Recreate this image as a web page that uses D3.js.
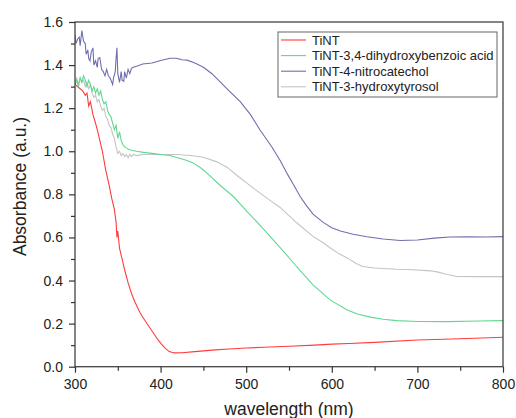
<!DOCTYPE html>
<html><head><meta charset="utf-8">
<script src="https://cdn.jsdelivr.net/npm/d3@7"></script>
<style>body{margin:0;background:#fff}svg{display:block;font-family:"Liberation Sans",Arial,sans-serif}</style>
</head><body><svg id="c" width="516" height="418"></svg>
<script>
const seriesNames = ["TiNT","TiNT-3,4-dihydroxybenzoic acid","TiNT-4-nitrocatechol","TiNT-3-hydroxytyrosol"];
const seriesColors = ["#ff3b3b","#5fd890","#6f6fae","#c4c4c4"];
const xTicks = [300,400,500,600,700,800];
const yTicks = [0.0,0.2,0.4,0.6,0.8,1.0,1.2,1.4,1.6];

const tintX = [300,303,306,309,312,314,316,318,321,324,326,329,332,336,340,343,346,348,349,350,352,355,358,362,366,370,376,380,385,391,396,401,405,410,416,425,440,460,480,500,520,550,580,600,620,650,700,750,800];
const tintY = [1.31,1.30,1.29,1.28,1.26,1.27,1.21,1.23,1.17,1.13,1.10,1.05,1.00,0.91,0.84,0.78,0.73,0.67,0.60,0.63,0.55,0.50,0.45,0.39,0.34,0.30,0.25,0.225,0.195,0.16,0.13,0.105,0.087,0.07,0.064,0.065,0.07,0.077,0.082,0.087,0.09,0.095,0.10,0.105,0.108,0.113,0.124,0.13,0.137];

const dhbX = [300,302,304,306,308,310,312,314,316,318,320,322,324,326,328,330,332,334,336,338,340,342,344,346,348,350,352,354,356,358,362,366,372,380,390,400,411,420,430,438,448,458,470,485,500,520,540,559,578,598,618,630,645,660,676,700,735,770,800];
const dhbY = [1.31,1.33,1.30,1.34,1.32,1.35,1.33,1.30,1.33,1.31,1.28,1.30,1.27,1.29,1.26,1.28,1.24,1.22,1.23,1.19,1.17,1.16,1.13,1.10,1.12,1.06,1.09,1.05,1.03,1.02,1.01,1.005,1.0,0.995,0.99,0.985,0.98,0.97,0.958,0.946,0.92,0.885,0.84,0.79,0.725,0.64,0.552,0.464,0.38,0.31,0.263,0.245,0.23,0.22,0.214,0.21,0.209,0.212,0.214];

const ncX = [300,301,303,305,306,308,310,312,313,315,316,317.5,319,321,322,324,326,327,329,331,333,335,337,339,341,343,344,345,347,348,349,350,351,352,354,355,357,358,360,362,364,366,368,372,379,390,399,411,418,425,431,440,450,460,469,480,493,505,516,530,540,548,556,563,570,578,590,600,610,625,641,660,680,700,720,738,760,780,800];
const ncY = [1.54,1.50,1.52,1.53,1.49,1.56,1.51,1.50,1.45,1.47,1.43,1.42,1.46,1.48,1.40,1.42,1.39,1.43,1.435,1.38,1.37,1.35,1.38,1.35,1.34,1.32,1.31,1.34,1.37,1.43,1.48,1.36,1.34,1.32,1.37,1.33,1.325,1.37,1.34,1.38,1.36,1.385,1.39,1.395,1.405,1.41,1.42,1.432,1.432,1.425,1.423,1.41,1.39,1.36,1.324,1.28,1.23,1.17,1.10,1.02,0.955,0.895,0.84,0.79,0.75,0.708,0.67,0.645,0.63,0.615,0.603,0.593,0.586,0.588,0.597,0.602,0.603,0.602,0.604];

const htX = [300,302,304,306,308,310,312,314,316,318,320,322,324,326,328,330,332,334,336,338,340,342,344,346,348,350,352,354,356,358,360,362,364,366,368,372,380,390,400,419,435,450,465,478,490,508,525,540,559,578,590,598,608,618,628,636,650,676,695,715,723,735,746,770,800];
const htY = [1.32,1.34,1.31,1.34,1.32,1.33,1.30,1.32,1.29,1.31,1.27,1.25,1.26,1.23,1.24,1.21,1.19,1.20,1.16,1.15,1.12,1.11,1.08,1.06,1.02,0.99,1.0,0.98,0.99,0.975,0.985,0.97,0.985,0.975,0.985,0.98,0.985,0.985,0.985,0.985,0.98,0.972,0.952,0.925,0.885,0.83,0.78,0.738,0.668,0.605,0.575,0.552,0.525,0.505,0.48,0.465,0.458,0.452,0.45,0.445,0.44,0.428,0.419,0.418,0.418];

const xs = [tintX,dhbX,ncX,htX];
const ys = [tintY,dhbY,ncY,htY];

const svg = d3.select("#c");
const L=75,R=503,T=22,B=366.7;
const x = d3.scaleLinear().domain([300,800]).range([L,R]);
const y = d3.scaleLinear().domain([0,1.6]).range([B,T]);
const axisCol="#333";

svg.append("clipPath").attr("id","clip").append("rect").attr("x",L).attr("y",T).attr("width",R-L).attr("height",B-T);

const line = d3.line().x(d=>x(d[0])).y(d=>y(d[1]));
const g = svg.append("g").attr("clip-path","url(#clip)");
[3,1,2,0].forEach(i=>{
  const pts = xs[i].map((v,k)=>[v,ys[i][k]]);
  g.append("path").attr("d",line(pts)).attr("fill","none").attr("stroke",seriesColors[i]).attr("stroke-width",1.1);
});

svg.append("rect").attr("x",L).attr("y",T).attr("width",R-L).attr("height",B-T).attr("fill","none").attr("stroke","#444").attr("stroke-width",1.3);

const xAx = svg.append("g").attr("transform",`translate(0,${B})`)
  .call(d3.axisBottom(x).tickValues(xTicks).tickSize(6).tickFormat(d3.format("d")));
const xMinor = svg.append("g").attr("transform",`translate(0,${B})`)
  .call(d3.axisBottom(x).tickValues([350,450,550,650,750]).tickSize(4).tickFormat(""));
const yAx = svg.append("g").attr("transform",`translate(${L},0)`)
  .call(d3.axisLeft(y).tickValues(yTicks).tickSize(6).tickFormat(d3.format(".1f")));
const yMinor = svg.append("g").attr("transform",`translate(${L},0)`)
  .call(d3.axisLeft(y).tickValues([0.1,0.3,0.5,0.7,0.9,1.1,1.3,1.5]).tickSize(4).tickFormat(""));
[xAx,xMinor,yAx,yMinor].forEach(a=>{
  a.select(".domain").remove();
  a.selectAll("line").attr("stroke",axisCol).attr("stroke-width",1.2);
  a.selectAll("text").attr("fill","#222").style("font-size","14px").style("font-family","'Liberation Sans',Arial,sans-serif");
});
xAx.selectAll("text").attr("dy","0.71em").attr("y",12);
yAx.selectAll("text").attr("x",-12);

svg.append("text").attr("x",289).attr("y",415).attr("text-anchor","middle").attr("fill","#222").style("font-size","17.5px").text("wavelength (nm)");
svg.append("text").attr("transform","translate(26,186.5) rotate(-90)").attr("text-anchor","middle").attr("fill","#222").style("font-size","17.5px").text("Absorbance (a.u.)");

const lg = svg.append("g");
lg.append("rect").attr("x",278).attr("y",32).attr("width",219).attr("height",65).attr("fill","#fff").attr("stroke","#666").attr("stroke-width",1);
seriesNames.forEach((n,i)=>{
  const yy = 40 + i*15.6;
  lg.append("line").attr("x1",281).attr("x2",306).attr("y1",yy).attr("y2",yy).attr("stroke",seriesColors[i]).attr("stroke-width",1.1);
  lg.append("text").attr("x",312).attr("y",yy).attr("dy","0.35em").attr("fill","#222").style("font-size","13px").text(n);
});
</script></body></html>
